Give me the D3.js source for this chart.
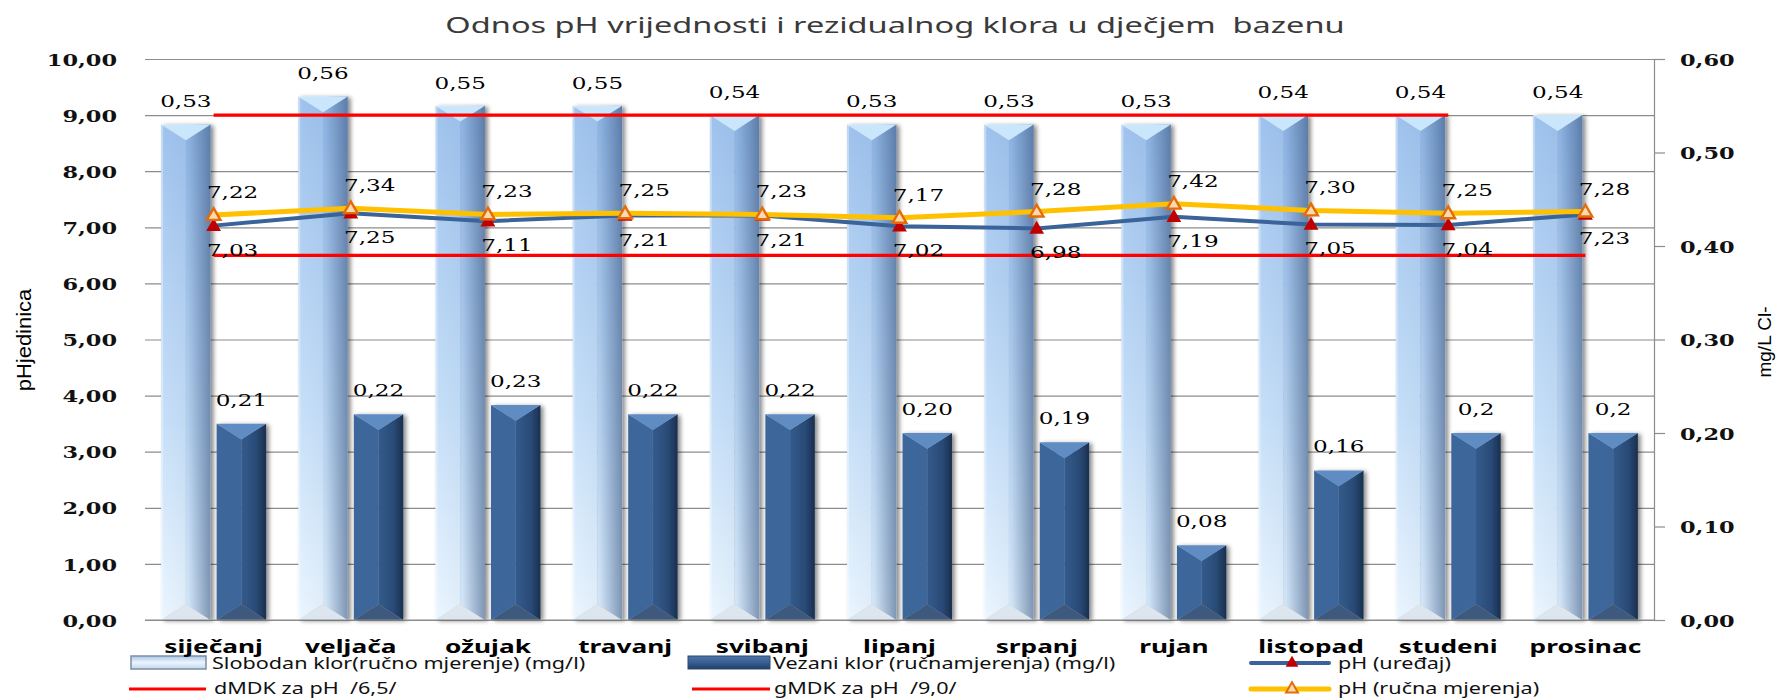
<!DOCTYPE html>
<html>
<head>
<meta charset="utf-8">
<script src="https://cdn.jsdelivr.net/npm/d3@7"></script>
<style>
  body { margin: 0; background: #fff; }
  svg { display: block; }
  text { white-space: pre; }
</style>
</head>
<body>
<div id="chart"></div>
<script>
const months = ["siječanj", "veljača", "ožujak", "travanj", "svibanj", "lipanj", "srpanj", "rujan", "listopad", "studeni", "prosinac"];
const slobodanKlor = [0.53, 0.56, 0.55, 0.55, 0.54, 0.53, 0.53, 0.53, 0.54, 0.54, 0.54];
const vezaniKlor = [0.21, 0.22, 0.23, 0.22, 0.22, 0.20, 0.19, 0.08, 0.16, 0.20, 0.20];
const vezaniLabels = ["0,21", "0,22", "0,23", "0,22", "0,22", "0,20", "0,19", "0,08", "0,16", "0,2", "0,2"];
const phUredaj = [7.03, 7.25, 7.11, 7.21, 7.21, 7.02, 6.98, 7.19, 7.05, 7.04, 7.23];
const phRucno = [7.22, 7.34, 7.23, 7.25, 7.23, 7.17, 7.28, 7.42, 7.30, 7.25, 7.28];
const dMDK = [6.5, 6.5, 6.5, 6.5, 6.5, 6.5, 6.5, 6.5, 6.5, 6.5, 6.5];
const gMDK = [9.0, 9.0, 9.0, 9.0, 9.0, 9.0, 9.0, 9.0, 9.0, 9.0, null];
const phTicks = [0, 1, 2, 3, 4, 5, 6, 7, 8, 9, 10];
const clTicks = [0, 0.1, 0.2, 0.3, 0.4, 0.5, 0.6];
const title = "Odnos pH vrijednosti i rezidualnog klora u dječjem  bazenu";
const legendNames = {
  slobodan: "Slobodan klor(ručno mjerenje) (mg/l)",
  vezani: "Vezani klor (ručnamjerenja) (mg/l)",
  uredaj: "pH (uređaj)",
  dmdk: "dMDK za pH  /6,5/",
  gmdk: "gMDK za pH  /9,0/",
  rucno: "pH (ručna mjerenja)"
};

const w = 1784;
const h = 700;
const plotLeft = 145, plotRight = 1654, plotTop = 59, plotBottom = 620;

const numFont = "'DejaVu Serif', serif";
const sansFont = "'Noto Sans', 'Open Sans', sans-serif";
const comma = (f) => (v) => f(v).replace(".", ",");
const fmt2 = comma(d3.format(".2f"));

const svg = d3.select("#chart").append("svg").attr("width", w).attr("height", h);
const defs = svg.append("defs");

function grad(id, stops, vertical) {
  const g = defs.append("linearGradient").attr("id", id)
    .attr("x1", 0).attr("y1", 0)
    .attr("x2", vertical ? 0 : 1).attr("y2", vertical ? 1 : 0);
  stops.forEach(s => g.append("stop").attr("offset", s[0]).attr("stop-color", s[1]).attr("stop-opacity", s[2] == null ? 1 : s[2]));
}
grad("lightL", [[0, "#9fc3ee"], [0.6, "#c7e0f9"], [1, "#ebf6ff"]], true);
grad("lightR", [[0, "#8fb6e6"], [0.6, "#b9d5f3"], [1, "#dceefe"]], true);
grad("lightEdge", [[0, "#324e78", 0], [0.55, "#324e78", 0.05], [1, "#324e78", 0.55]], false);
grad("darkR", [[0, "#335b8c"], [0.6, "#2a4b77"], [1, "#1a2f4e"]], false);
grad("legLight", [[0, "#a9c6e6"], [0.5, "#eaf4ff"], [1, "#c4d6ea"]], true);
grad("legDark", [[0, "#4b75aa"], [0.5, "#375f93"], [1, "#223e63"]], true);

const shadow = defs.append("filter").attr("id", "shadow")
  .attr("x", "-20%").attr("y", "-10%").attr("width", "150%").attr("height", "120%");
shadow.append("feDropShadow").attr("dx", 3).attr("dy", 1).attr("stdDeviation", 2)
  .attr("flood-color", "#000").attr("flood-opacity", 0.45);

// text helper, everything in the picture looks stretched sideways
function stretch(sel, sx) {
  sel.each(function () {
    const t = d3.select(this);
    const x = +t.attr("x") || 0, y = +t.attr("y") || 0;
    t.attr("x", 0).attr("y", 0).attr("transform", "translate(" + x + "," + y + ") scale(" + sx + ",1)");
  });
}
function label(parent, x, y, str, o) {
  const t = parent.append("text").attr("x", x).attr("y", y).text(str)
    .attr("font-family", o.family || numFont)
    .attr("font-size", o.size || 16)
    .attr("font-weight", o.weight || "normal")
    .attr("fill", o.fill || "#000")
    .attr("text-anchor", o.anchor || "middle");
  stretch(t, o.sx || 1.4);
  return t;
}

// scales
const x = d3.scaleBand().domain(months).range([plotLeft, plotRight]).paddingInner(0.235).paddingOuter(0.1175);
const xs = d3.scaleBand().domain(["slobodan", "vezani"]).range([0, x.bandwidth()]).paddingInner(0.11);
const yL = d3.scaleLinear().domain([0, 10]).range([plotBottom, plotTop]);
const yR = d3.scaleLinear().domain([0, 0.6]).range([plotBottom, plotTop]);
const cx = (m) => x(m) + x.bandwidth() / 2;

// title
label(svg, 895, 33, title, { family: sansFont, size: 21, fill: "#3a3a3a", sx: 1.55 });

// gridlines
svg.append("g").attr("transform", "translate(" + plotLeft + ",0)")
  .call(d3.axisLeft(yL).tickValues(phTicks).tickSize(-(plotRight - plotLeft)).tickFormat(""))
  .call(g => g.select(".domain").remove())
  .call(g => g.selectAll("line").attr("stroke", "#8c8c8c").attr("stroke-width", 1.2));

// left axis labels
const axL = svg.append("g").attr("transform", "translate(" + plotLeft + ",0)")
  .call(d3.axisLeft(yL).tickValues(phTicks).tickSize(0).tickPadding(28).tickFormat(fmt2));
axL.select(".domain").remove();
axL.selectAll("text").attr("font-family", numFont).attr("font-size", 17).attr("font-weight", "bold")
  .attr("fill", "#111").attr("dy", "0.36em");
stretch(axL.selectAll("text"), 1.32);

// right axis
const axR = svg.append("g").attr("transform", "translate(" + plotRight + ",0)")
  .call(d3.axisRight(yR).tickValues(clTicks).tickSize(11).tickSizeOuter(0).tickPadding(15).tickFormat(fmt2));
axR.select(".domain").attr("stroke", "#8c8c8c").attr("stroke-width", 1.2);
axR.selectAll("line").attr("stroke", "#8c8c8c").attr("stroke-width", 1.2);
axR.selectAll("text").attr("font-family", numFont).attr("font-size", 17).attr("font-weight", "bold")
  .attr("fill", "#111").attr("dy", "0.36em");
stretch(axR.selectAll("text"), 1.32);

// axis titles
svg.append("text").text("pHjedinica")
  .attr("transform", "translate(31,340) rotate(-90) scale(1.1,1)")
  .attr("text-anchor", "middle").attr("font-family", "'Liberation Sans', Arial, sans-serif")
  .attr("font-size", 20).attr("fill", "#000");
svg.append("text").text("mg/L Cl-")
  .attr("transform", "translate(1771,342) rotate(-90)")
  .attr("text-anchor", "middle").attr("font-family", "'Liberation Sans', Arial, sans-serif")
  .attr("font-size", 19).attr("fill", "#000");

// bevelled bar
function bevelBar(g, bx, by, bw, bh, kind) {
  const d = Math.min(bw * 0.32, bh / 2);
  const mx = bx + bw / 2;
  const x1 = bx + bw, y1 = by + bh;
  const bar = g.append("g").attr("filter", "url(#shadow)");
  const pts = (a) => a.map(p => p.join(",")).join(" ");
  if (kind === "slobodan") {
    bar.append("polygon").attr("points", pts([[bx, by], [mx, by + d], [mx, y1 - d], [bx, y1]])).attr("fill", "url(#lightL)");
    bar.append("polygon").attr("points", pts([[x1, by], [mx, by + d], [mx, y1 - d], [x1, y1]])).attr("fill", "url(#lightR)");
    bar.append("rect").attr("x", bx).attr("y", by).attr("width", bw).attr("height", bh).attr("fill", "url(#lightEdge)");
    bar.append("polygon").attr("points", pts([[bx, by], [x1, by], [mx, by + d]])).attr("fill", "#c9e6fc");
    bar.append("polygon").attr("points", pts([[bx, y1], [x1, y1], [mx, y1 - d]])).attr("fill", "#dde6ef");
    bar.append("rect").attr("x", bx).attr("y", by).attr("width", 2).attr("height", bh).attr("fill", "#fff").attr("opacity", 0.35);
  } else {
    bar.append("polygon").attr("points", pts([[bx, by], [mx, by + d], [mx, y1 - d], [bx, y1]])).attr("fill", "#3c669b");
    bar.append("polygon").attr("points", pts([[x1, by], [mx, by + d], [mx, y1 - d], [x1, y1]])).attr("fill", "url(#darkR)");
    bar.append("polygon").attr("points", pts([[bx, by], [x1, by], [mx, by + d]])).attr("fill", "#5f8cc3");
    bar.append("polygon").attr("points", pts([[bx, y1], [x1, y1], [mx, y1 - d]])).attr("fill", "#3d5a7e");
  }
}

const barsG = svg.append("g");
months.forEach((m, i) => {
  const bx1 = x(m) + xs("slobodan");
  bevelBar(barsG, bx1, yR(slobodanKlor[i]), xs.bandwidth(), yR(0) - yR(slobodanKlor[i]), "slobodan");
  const bx2 = x(m) + xs("vezani");
  bevelBar(barsG, bx2, yR(vezaniKlor[i]), xs.bandwidth(), yR(0) - yR(vezaniKlor[i]), "vezani");
});

// bottom axis line, month labels come later (they sit over the legend)
svg.append("line").attr("x1", plotLeft).attr("x2", plotRight).attr("y1", plotBottom).attr("y2", plotBottom)
  .attr("stroke", "#8c8c8c").attr("stroke-width", 1.2);

// limit lines
const lineGen = (arr) => d3.line().defined((d, i) => arr[i] != null)
  .x((d, i) => cx(months[i])).y((d, i) => yL(arr[i]))(months);
svg.append("path").attr("d", lineGen(dMDK)).attr("fill", "none").attr("stroke", "#ff0000").attr("stroke-width", 3.2);
svg.append("path").attr("d", lineGen(gMDK)).attr("fill", "none").attr("stroke", "#ff0000").attr("stroke-width", 3.2);

// pH lines
svg.append("path").attr("d", lineGen(phUredaj)).attr("fill", "none").attr("stroke", "#3a6399").attr("stroke-width", 4).attr("stroke-linejoin", "round");
svg.append("path").attr("d", lineGen(phRucno)).attr("fill", "none").attr("stroke", "#ffc000").attr("stroke-width", 5).attr("stroke-linejoin", "round");

const tri = d3.symbol().type(d3.symbolTriangle);
months.forEach((m, i) => {
  svg.append("path").attr("d", tri.size(95)())
    .attr("transform", "translate(" + cx(m) + "," + (yL(phUredaj[i]) + 1) + ")")
    .attr("fill", "#c00000");
});
months.forEach((m, i) => {
  svg.append("path").attr("d", tri.size(80)())
    .attr("transform", "translate(" + cx(m) + "," + (yL(phRucno[i]) + 1) + ")")
    .attr("fill", "#fcd9b0").attr("stroke", "#e36c09").attr("stroke-width", 2.4);
});

// data labels
months.forEach((m, i) => {
  label(svg, x(m) + xs("slobodan") + xs.bandwidth() / 2, yR(slobodanKlor[i]) - 17, fmt2(slobodanKlor[i]), { size: 16.5 });
  label(svg, x(m) + xs("vezani") + xs.bandwidth() / 2, yR(vezaniKlor[i]) - 18, vezaniLabels[i], { size: 16.5 });
  label(svg, cx(m) + 19, yL(phRucno[i]) - 17, fmt2(phRucno[i]), { size: 16.5 });
  label(svg, cx(m) + 19, yL(phUredaj[i]) + 30, fmt2(phUredaj[i]), { size: 16.5 });
});

// legend
const leg = svg.append("g");
const legText = (lx, ly, str) => label(leg, lx, ly, str, { family: sansFont, size: 16, anchor: "start", sx: 1.35, fill: "#111" });

leg.append("rect").attr("x", 131).attr("y", 656).attr("width", 75).attr("height", 13)
  .attr("fill", "url(#legLight)").attr("stroke", "#7d8ea3").attr("stroke-width", 1.5);
legText(212, 669, legendNames.slobodan);
leg.append("rect").attr("x", 688).attr("y", 656).attr("width", 82).attr("height", 13)
  .attr("fill", "url(#legDark)").attr("stroke", "#2c4a70").attr("stroke-width", 1);
legText(773, 669, legendNames.vezani);
leg.append("line").attr("x1", 1251).attr("x2", 1329).attr("y1", 663).attr("y2", 663)
  .attr("stroke", "#3a6399").attr("stroke-width", 4).attr("stroke-linecap", "round");
leg.append("path").attr("d", tri.size(70)()).attr("transform", "translate(1292,663)").attr("fill", "#c00000");
legText(1338, 669, legendNames.uredaj);

leg.append("line").attr("x1", 129).attr("x2", 206).attr("y1", 689).attr("y2", 689)
  .attr("stroke", "#ff0000").attr("stroke-width", 3.2);
legText(214, 694, legendNames.dmdk);
leg.append("line").attr("x1", 692).attr("x2", 770).attr("y1", 689).attr("y2", 689)
  .attr("stroke", "#ff0000").attr("stroke-width", 3.2);
legText(774, 694, legendNames.gmdk);
leg.append("line").attr("x1", 1251).attr("x2", 1329).attr("y1", 689).attr("y2", 689)
  .attr("stroke", "#ffc000").attr("stroke-width", 5).attr("stroke-linecap", "round");
leg.append("path").attr("d", tri.size(60)()).attr("transform", "translate(1292,689)")
  .attr("fill", "#fcd9b0").attr("stroke", "#e36c09").attr("stroke-width", 2);
legText(1338, 694, legendNames.rucno);

// month labels
const axB = svg.append("g").attr("transform", "translate(0," + plotBottom + ")")
  .call(d3.axisBottom(x).tickSize(0).tickPadding(0));
axB.select(".domain").remove();
axB.selectAll("text").attr("y", 33).attr("dy", 0)
  .attr("font-family", sansFont).attr("font-size", 18.5).attr("font-weight", "bold").attr("fill", "#000");
stretch(axB.selectAll("text"), 1.42);
</script>
</body>
</html>
